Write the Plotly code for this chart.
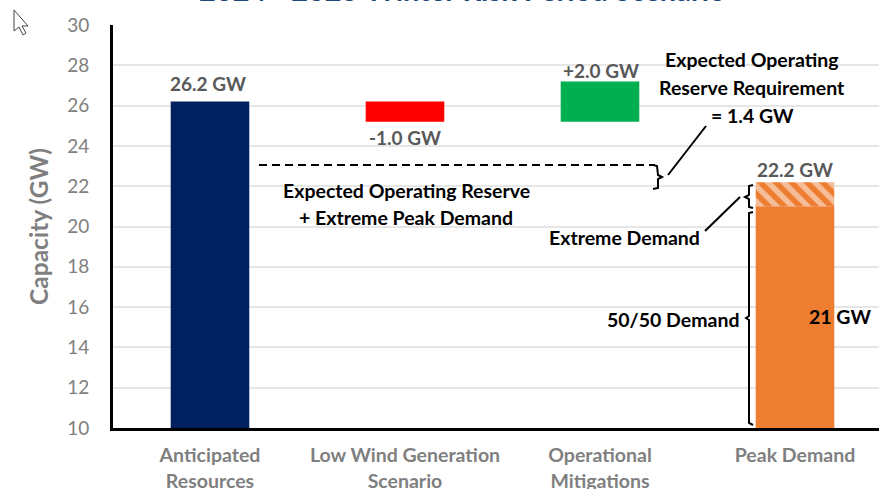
import plotly.graph_objects as go

W, H = 879, 489
ML, MR, MT, MB = 113, 0, 25, 61

categories = ["Anticipated<br>Resources", "Low Wind Generation<br>Scenario",
              "Operational<br>Mitigations", "Peak Demand"]
positions = [0, 1, 2, 3]
y_ticks = [10, 12, 14, 16, 18, 20, 22, 24, 26, 28, 30]

resources_base, resources_top = 10, 26.2
wind_base, wind_top = 25.2, 26.2
mitigation_base, mitigation_top = 25.2, 27.2
demand_base, demand_5050_top = 10, 21
demand_extreme_top = 22.2

FONT = "Lato"
def px(x): return (x - ML) / (W - ML - MR)
def py(y): return 1 - (y - MT) / (H - MT - MB)

fig = go.Figure()
def bar(pos, base, top, color, **kw):
    fig.add_trace(go.Bar(x=[pos], y=[top - base], base=[base], width=0.403,
                         marker=dict(color=color, line=dict(width=0), **kw),
                         showlegend=False, hoverinfo="skip"))

bar(positions[0], resources_base, resources_top, "#002060")
bar(positions[1], wind_base, wind_top, "#FF0000")
bar(positions[2], mitigation_base, mitigation_top, "#00B050")
bar(positions[3], demand_base, demand_5050_top, "#ED7D31")
bar(positions[3], demand_5050_top, demand_extreme_top, "#ED7D31",
    pattern=dict(shape="\\", fgcolor="#FFFFFF", bgcolor="#ED7D31", size=11, solidity=0.5))

def label(text, x, y, color="#000000", size=19.5):
    fig.add_annotation(text=f"<b>{text}</b>", x=px(x), y=py(y), xref="paper", yref="paper",
                       showarrow=False, xanchor="center", yanchor="middle",
                       font=dict(family=FONT, size=size, color=color))

GREY = "#595959"
label("26.2 GW", 208, 84, GREY, 19)
label("-1.0 GW", 405, 137, GREY, 19)
label("+2.0 GW", 601, 71, GREY, 19)
label("22.2 GW", 795, 169, GREY, 19)
label("Expected Operating", 752, 59)
label("Reserve Requirement", 752, 87)
label("= 1.4 GW", 752, 115)
label("Expected Operating Reserve", 406, 190)
label("+ Extreme Peak Demand", 406, 217)
label("Extreme Demand", 624, 237)
label("50/50 Demand", 673, 319)
label("21 GW", 840, 316)
label("2024 - 2025 Winter Risk Period Scenario", 462, -10, "#1F497D", 29)

def seg(x0, y0, x1, y1, width=2, dash="solid", color="#000000"):
    fig.add_shape(type="line", xref="paper", yref="paper", x0=px(x0), y0=py(y0), x1=px(x1), y1=py(y1),
                  line=dict(color=color, width=width, dash=dash))
def path(points, width=2, color="#000000", fill=None):
    d = "M " + " L ".join(f"{px(a):.5f},{py(b):.5f}" for a, b in points)
    if fill:
        d += " Z"
    fig.add_shape(type="path", xref="paper", yref="paper", path=d,
                  line=dict(color=color, width=width), fillcolor=fill)

seg(259, 165, 655, 165, width=2, dash="8px,5px")
seg(668, 175, 706, 126)
seg(705, 231, 740, 197)
path([(653, 165), (657, 166), (658, 175), (662, 177), (658, 179), (658, 188), (653, 189)])
path([(753, 185), (749, 186), (749, 195), (745, 197), (749, 199), (749, 207), (753, 208)])
path([(753, 212), (749, 213), (749, 316), (746, 318), (749, 320), (749, 423), (753, 425)])
# screen-capture mouse pointer in the corner
path([(14, 10), (14, 31), (19, 27), (23, 35), (26, 33), (22, 26), (28, 26)], width=1, color="#444444", fill="#FFFFFF")

fig.update_layout(
    width=W, height=H, autosize=False,
    margin=dict(l=ML, r=MR, t=MT, b=MB, autoexpand=False),
    paper_bgcolor="white", plot_bgcolor="white",
    barmode="overlay", showlegend=False,
    xaxis=dict(range=[-0.4974, 3.4308], tickmode="array", tickvals=positions, ticktext=[f"<b>{c}</b>" for c in categories],
               tickfont=dict(family=FONT, size=19.5, color="#7F7F7F"), ticks="outside", tickcolor="white", ticklen=8,
               showgrid=False, zeroline=False, showline=True, linecolor="#000000", linewidth=3),
    yaxis=dict(range=[10, 30], tickmode="array", tickvals=y_ticks,
               tickfont=dict(family=FONT, size=19, color="#808080"), ticks="", ticklabelstandoff=17,
               showgrid=True, gridcolor="#E6E6E6", gridwidth=2, zeroline=False,
               showline=True, linecolor="#000000", linewidth=3,
               title=dict(text="<b>Capacity (GW)</b>", font=dict(family=FONT, size=24.5, color="#7F7F7F"), standoff=12)),
)
fig.write_html("out.html", config={"displayModeBar": False},
               post_script="document.body.style.margin='0';document.body.style.overflow='hidden';")
